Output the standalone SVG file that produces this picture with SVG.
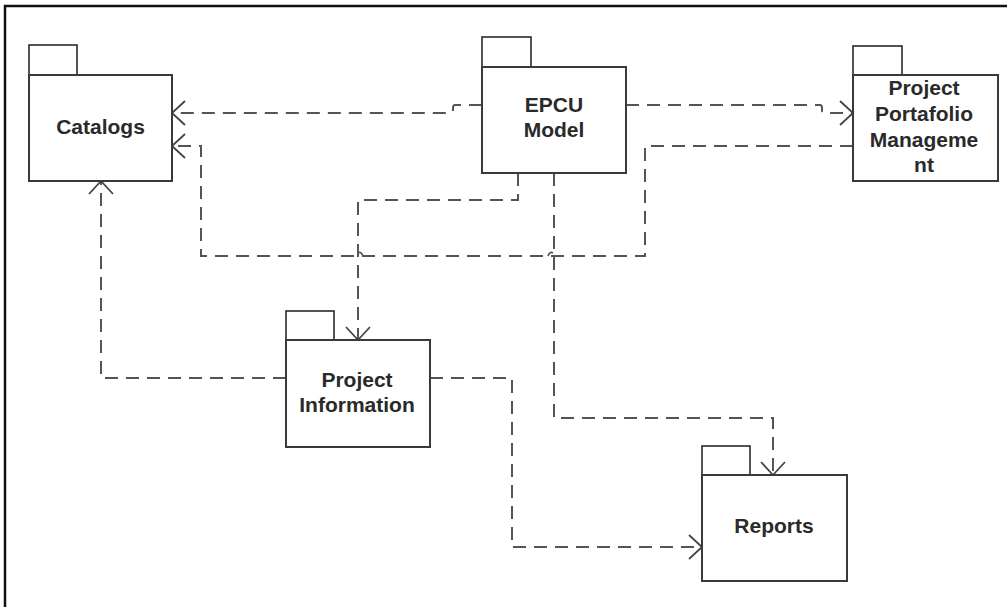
<svg xmlns="http://www.w3.org/2000/svg" width="1007" height="607" viewBox="0 0 1007 607">
<defs>
<style>
.frame{fill:none;stroke:#111;stroke-width:2.5}
.body{fill:#fff;stroke:#3a3a3a;stroke-width:2}
.tab{fill:#fff;stroke:#2a2a2a;stroke-width:1.6}
.lbl{font-family:"Liberation Sans",Arial,sans-serif;font-weight:bold;font-size:21px;fill:#2a2a2a;text-anchor:middle}
.dep{fill:none;stroke:#555;stroke-width:2;stroke-dasharray:13 8;marker-end:url(#open)}
.hop{fill:none;stroke:#555;stroke-width:1.6}
</style>
<marker id="open" markerUnits="userSpaceOnUse" markerWidth="30" markerHeight="30" viewBox="-15 -15 30 30" refX="0" refY="0" orient="auto">
<path d="M-13,-12 L0,0 L-13,12" fill="none" stroke="#444" stroke-width="1.8" stroke-dasharray="none"/>
</marker>
</defs>
<rect width="1007" height="607" fill="#fff"/>
<path class="frame" d="M5,607 V6 H1007"/>

<g id="connectors">
<path class="dep" d="M482,105 H455 Q453,105 453,108 V111 Q453,113 451,113 H172"/>
<path class="dep" d="M853,146 H645 V256 H201 V146 H172"/>
<path class="dep" d="M626,105 H820 Q822,105 822,108 V111 Q822,113 825,113 H853"/>
<path class="dep" d="M518,173 V200 H358 V340"/>
<path class="dep" d="M554,173 V418 H773 V475"/>
<path class="dep" d="M286,378 H101 V181"/>
<path class="dep" d="M430,378 H512 V547 H702"/>
<path class="hop" d="M358,253 Q361,251 363,256"/>
<path class="hop" d="M553,253 Q550,251 548,256"/>
</g>

<g id="catalogs">
<rect class="tab" x="29" y="45" width="48" height="30"/>
<rect class="body" x="29" y="75" width="143" height="106"/>
<text class="lbl" x="100.5" y="134">Catalogs</text>
</g>

<g id="epcu-model">
<rect class="tab" x="482" y="37" width="49" height="30"/>
<rect class="body" x="482" y="67" width="144" height="106"/>
<text class="lbl" x="554" y="112">EPCU</text>
<text class="lbl" x="554" y="137">Model</text>
</g>

<g id="project-portafolio-management">
<rect class="tab" x="853" y="46" width="49" height="29"/>
<rect class="body" x="853" y="75" width="145" height="106"/>
<text class="lbl" x="924" y="95">Project</text>
<text class="lbl" x="924" y="121">Portafolio</text>
<text class="lbl" x="924" y="147">Manageme</text>
<text class="lbl" x="924" y="172">nt</text>
</g>

<g id="project-information">
<rect class="tab" x="286" y="311" width="48" height="29"/>
<rect class="body" x="286" y="340" width="144" height="107"/>
<text class="lbl" x="357" y="387">Project</text>
<text class="lbl" x="357" y="412">Information</text>
</g>

<g id="reports">
<rect class="tab" x="702" y="446" width="48" height="29"/>
<rect class="body" x="702" y="475" width="145" height="106"/>
<text class="lbl" x="774" y="533">Reports</text>
</g>
</svg>
